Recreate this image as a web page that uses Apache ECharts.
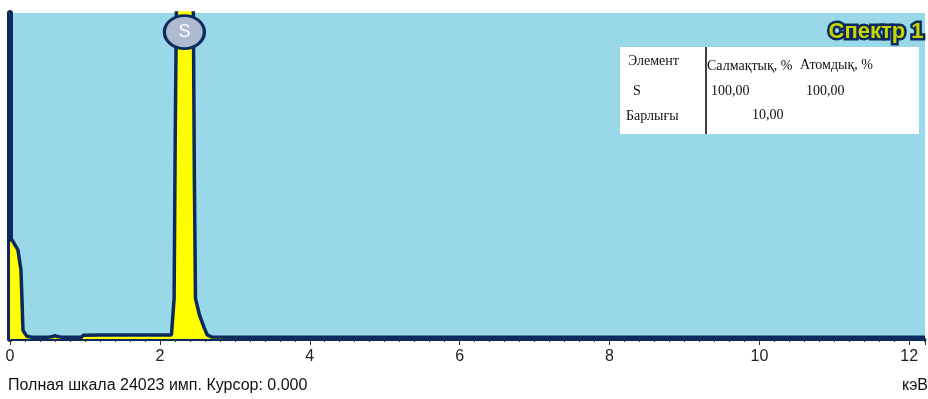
<!DOCTYPE html>
<html><head><meta charset="utf-8">
<script src="https://cdn.jsdelivr.net/npm/echarts@6/dist/echarts.min.js"></script>
<style>html,body{margin:0;padding:0;background:#fff}#c{width:928px;height:399px}</style>
</head><body><div id="c"></div>
<script>
// Energy (keV) and counts
const energy = [0.000,0.027,0.053,0.106,0.146,0.160,0.173,0.200,0.226,0.30,0.50,0.57,0.60,0.63,0.70,0.95,0.98,1.20,1.60,2.00,2.155,2.17,2.19,2.205,2.23,2.30,2.36,2.44,2.46,2.475,2.527,2.593,2.633,2.69,3.0,5.0,8.0,10.0,12.21];
const counts = [7300,7300,7200,6560,5090,2870,660,400,200,120,120,180,250,180,120,120,280,300,300,300,300,1500,3000,15000,30000,30000,30000,30000,12000,3000,1800,800,300,150,130,130,130,130,130];
const xTicks = [0,2,4,6,8,10,12];
const peakLabel = {name:'S', energy:2.327, y:22620};
const tableHeader = ['Элемент','Салмақтық, %','Атомдық, %'];
const tableRow1 = ['S','100,00','100,00'];
const tableRow2 = ['Барлығы','10,00'];
const footerText = 'Полная шкала 24023 имп. Курсор: 0.000';
const unitText = 'кэВ';
const titleText = 'Спектр 1';

const navy = '#0c2a5c';
const chart = echarts.init(document.getElementById('c'));
const serif = '"Liberation Serif", "DejaVu Serif", serif';
const sans = '"Liberation Sans", Arial, sans-serif';
const tstyle = (t,x,y)=>({type:'text',left:x,top:y,z:10,style:{text:t,fill:'#111',font:'14px '+serif}});
chart.setOption({
  backgroundColor:'#fff',
  animation:false,
  grid:{left:10,right:0,top:13,bottom:60,show:true,backgroundColor:'#99d8e8',borderWidth:0},
  xAxis:{type:'value',min:0,max:12.21,interval:2,
    axisLine:{show:true,onZero:false,lineStyle:{color:navy,width:3}},
    axisTick:{show:true,length:6,lineStyle:{color:'#333',width:1}},
    minorTick:{show:true,splitNumber:10,length:3,lineStyle:{color:'#333'}},
    splitLine:{show:false},
    axisLabel:{color:'#222',fontSize:16,fontFamily:sans,margin:10,
      formatter:v=>xTicks.includes(Math.round(v))&&Math.abs(v-Math.round(v))<1e-6?String(Math.round(v)):''}},
  yAxis:{type:'value',min:0,max:24023,show:true,
    axisLine:{show:true,lineStyle:{color:navy,width:6}},
    axisTick:{show:false},axisLabel:{show:false},splitLine:{show:false}},
  series:[{type:'line',data:energy.map((e,i)=>[e,counts[i]]),symbol:'none',clip:true,
    lineStyle:{color:navy,width:3.5},
    areaStyle:{color:'#ffff00',opacity:1},
    markPoint:{symbol:'circle',symbolSize:[40,33],
      itemStyle:{color:'#aebad0',borderColor:navy,borderWidth:3},
      label:{show:true,formatter:peakLabel.name,color:'#fff',fontSize:18,fontFamily:sans},
      data:[{coord:[peakLabel.energy,peakLabel.y]}]}}],
  graphic:[
    {type:'rect',shape:{x:620,y:47,width:299,height:87},style:{fill:'#fff'},z:5},
    {type:'line',shape:{x1:706,y1:47,x2:706,y2:134},style:{stroke:'#000',lineWidth:1.5},z:6},
    tstyle(tableHeader[0],628,54),
    tstyle(tableHeader[1],707,59),
    tstyle(tableHeader[2],800,58),
    tstyle(tableRow1[0],633,84),
    tstyle(tableRow1[1],711,84),
    tstyle(tableRow1[2],806,84),
    tstyle(tableRow2[0],626,109),
    tstyle(tableRow2[1],752,108),
    {type:'text',right:2,top:18,z:10,style:{text:titleText,fill:'#c8d400',stroke:navy,lineWidth:5,font:'bold 22px '+sans}},
    {type:'text',left:8,top:378,style:{text:footerText,fill:'#111',font:'16px '+sans}},
    {type:'text',right:0,top:378,style:{text:unitText,fill:'#111',font:'16px '+sans}}
  ]
});
</script></body></html>
